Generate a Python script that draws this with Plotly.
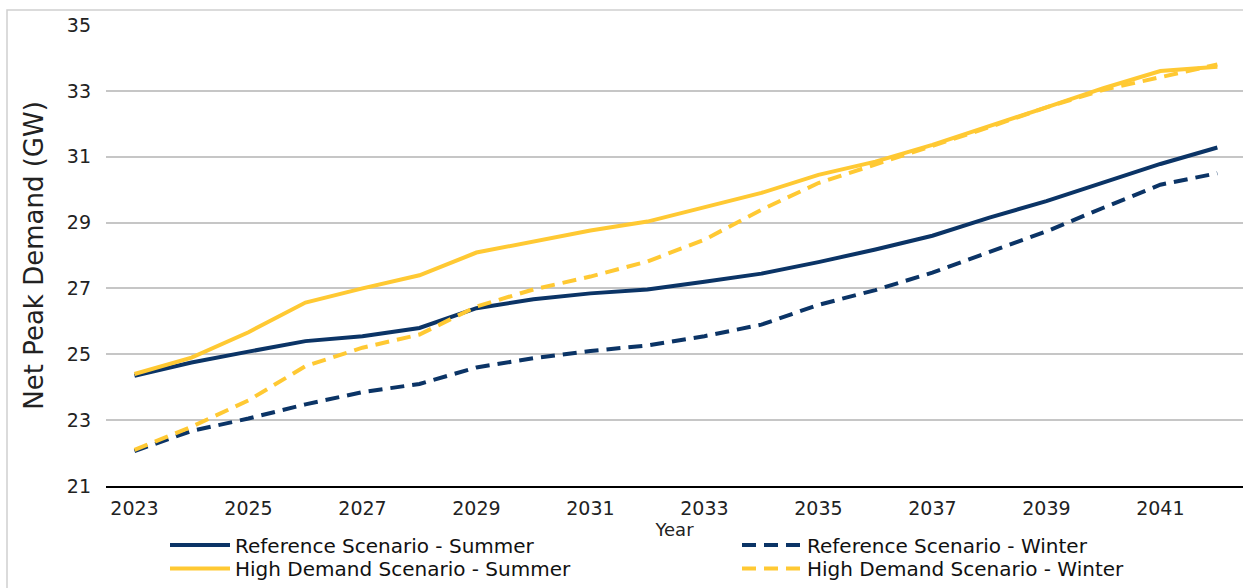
import plotly.graph_objects as go

years = list(range(2023, 2043))
ref_summer = [24.35, 24.75, 25.08, 25.40, 25.55, 25.80, 26.40, 26.67, 26.85, 26.97, 27.20, 27.45,
              27.80, 28.18, 28.60, 29.15, 29.65, 30.20, 30.78, 31.28]
ref_winter = [22.06, 22.67, 23.05, 23.48, 23.85, 24.10, 24.60, 24.88, 25.10, 25.27, 25.55, 25.90,
              26.50, 26.95, 27.48, 28.09, 28.73, 29.45, 30.15, 30.50]
high_summer = [24.40, 24.90, 25.67, 26.57, 27.00, 27.40, 28.09, 28.42, 28.76, 29.03, 29.45, 29.90,
               30.45, 30.85, 31.36, 31.92, 32.50, 33.08, 33.60, 33.73]
high_winter = [22.10, 22.80, 23.60, 24.64, 25.20, 25.60, 26.45, 26.97, 27.36, 27.82, 28.48, 29.39,
               30.20, 30.75, 31.33, 31.90, 32.50, 33.03, 33.42, 33.80]
x_ticks = list(range(2023, 2043, 2))
y_ticks = list(range(21, 36, 2))

NAVY = "#0b3466"
GOLD = "#ffc933"
FONT = "DejaVu Sans"
TXT = "#222222"

FW, FH = 1243, 588
L, T, W, H = 106, 25, 1137, 462

def px2paper_x(px):
    return (px - L) / W

def px2paper_y(py):
    return (T + H - py) / H

series = [
    ("Reference Scenario - Summer", ref_summer, NAVY, "solid", "legend", 165, 545),
    ("Reference Scenario - Winter", ref_winter, NAVY, "14px,8px", "legend2", 737, 545),
    ("High Demand Scenario - Summer", high_summer, GOLD, "solid", "legend3", 165, 570),
    ("High Demand Scenario - Winter", high_winter, GOLD, "14px,8px", "legend4", 737, 570),
]

fig = go.Figure()
legends = {}
for name, vals, color, dash, leg, lx, ly in series:
    fig.add_trace(go.Scatter(x=years, y=vals, mode="lines", name=name, showlegend=True,
                             line=dict(color=color, width=4, dash=dash), legend=leg))
    legends[leg] = dict(x=px2paper_x(lx), y=px2paper_y(ly), xanchor="left", yanchor="middle",
                        font=dict(size=20, family=FONT, color="#111111"), bgcolor="rgba(0,0,0,0)",
                        tracegroupgap=0, itemwidth=60, visible=True)

fig.update_layout(
    width=FW, height=FH, showlegend=True,
    margin=dict(l=L, r=FW - L - W, t=T, b=FH - T - H),
    paper_bgcolor="white", plot_bgcolor="white",
    font=dict(family=FONT, color=TXT, size=19),
    xaxis=dict(range=[2022.5, 2042.45], tickvals=x_ticks, ticktext=[str(v) for v in x_ticks],
               showgrid=False, zeroline=False, showline=True, linecolor="black", linewidth=2,
               ticks="", automargin=False, tickfont=dict(size=19, family=FONT, color=TXT),
               ticklabelstandoff=4,
               title=dict(text="Year", font=dict(size=18, family=FONT, color=TXT), standoff=0)),
    yaxis=dict(range=[21, 35], tickvals=y_ticks, showgrid=True, gridcolor="#c6c6c6", gridwidth=1.5,
               zeroline=False, showline=False, ticks="", ticklabelstandoff=14, automargin=False,
               tickfont=dict(size=19, family=FONT, color=TXT),
               title=dict(text="Net Peak Demand (GW)", font=dict(size=26, family=FONT, color=TXT),
                          standoff=15)),
    shapes=[dict(type="rect", xref="paper", yref="paper",
                 x0=px2paper_x(7), x1=px2paper_x(1300), y0=px2paper_y(640), y1=px2paper_y(10),
                 line=dict(color="#d0d0d0", width=1.5), fillcolor="rgba(0,0,0,0)", layer="below")],
    **legends,
)

fig.write_html("out.html", config={"displayModeBar": False},
               post_script="document.body.style.margin='0';document.body.style.overflow='hidden';")
